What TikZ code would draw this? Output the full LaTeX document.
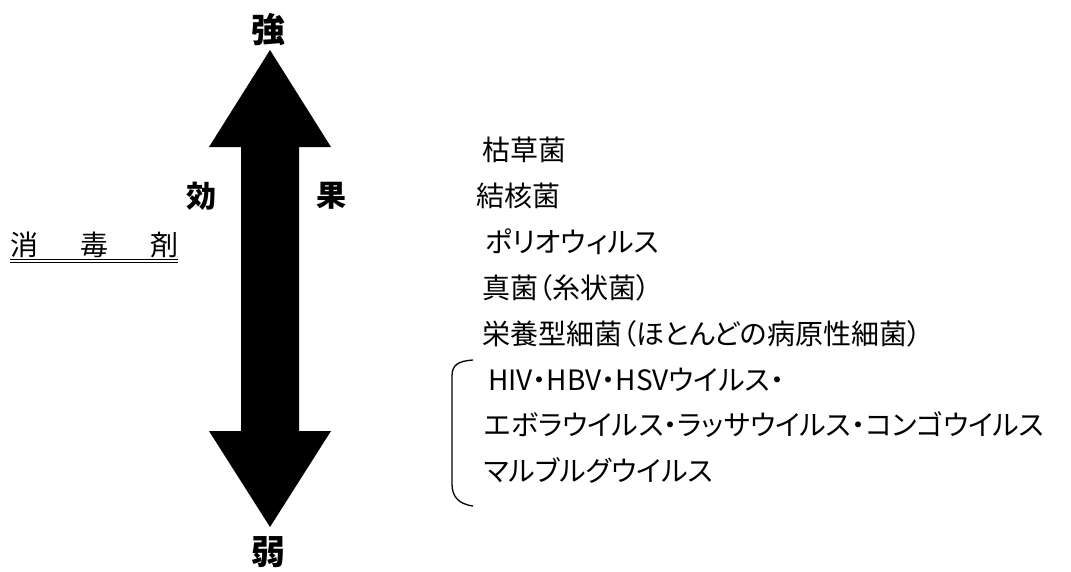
\documentclass[tikz,border=0pt]{standalone}
\usepackage{fontspec}
\setmainfont[RawFeature=+palt]{Noto Sans CJK JP}
\usetikzlibrary{positioning}
\tikzstyle{item} = [anchor=west, inner sep=0pt, font=\fontsize{28pt}{30pt}\selectfont]
\tikzstyle{pole} = [inner sep=0pt, font=\fontsize{34pt}{38pt}\selectfont\bfseries]
\tikzstyle{effect} = [inner sep=0pt, font=\fontsize{30pt}{34pt}\selectfont\bfseries]
\tikzstyle{bigarrow} = [fill=black]
\tikzstyle{uline} = [double, double distance=2.5pt, line width=1pt]
\tikzstyle{brace} = [line width=1.3pt]
\begin{document}
\begin{tikzpicture}[x=1pt, y=-1pt]
	\useasboundingbox (0,0) rectangle (1071,571);
	% strength arrow
	\node (strong) [pole] at (268,30) {強};
	\node (weak) [pole] at (268,552) {弱};
	\coordinate (tipU) at (270,50);
	\coordinate (tipD) at (270,527);
	\fill [bigarrow] (tipU) -- (331,147) -- (299,147) -- (299,431) -- (331,431) -- (tipD)
		-- (209,431) -- (241,431) -- (241,147) -- (209,147) -- cycle;
	\node (eff1) [effect] at (201,196) {効};
	\node (eff2) [effect] at (331,196) {果};
	
	\node (agent) [item] at (10,245) {消\hspace{42pt}毒\hspace{42pt}剤};
	\draw [uline] ([yshift=-3pt]agent.south west) -- ([yshift=-3pt]agent.south east);
	
	% organisms
	\node (bsub) [item] at (482,150) {枯草菌};
	\node (tb) [item] at ([xshift=-6pt, yshift=-46pt]bsub.west) {結核菌};
	\node (polio) [item] at ([xshift=9pt, yshift=-46pt]tb.west) {ポリオウィルス};
	\node (fungi) [item] at ([xshift=-3pt, yshift=-46pt]polio.west) {真菌（糸状菌）};
	\node (bact) [item] at ([yshift=-46pt]fungi.west) {栄養型細菌（ほとんどの病原性細菌）};
	\node (hiv) [item] at ([xshift=6pt, yshift=-46pt]bact.west) {HIV・HBV・HSVウイルス・};
	\node (ebola) [item] at ([xshift=-4pt, yshift=-45pt]hiv.west) {エボラウイルス・ラッサウイルス・コンゴウイルス};
	\node (marburg) [item] at ([yshift=-45pt]ebola.west) {マルブルグウイルス};
	\draw [brace] ([xshift=-15pt, yshift=20pt]hiv.west) .. controls ([xshift=-30pt, yshift=19pt]hiv.west) and ([xshift=-36pt, yshift=15pt]hiv.west) .. ([xshift=-36pt, yshift=4pt]hiv.west)
		-- ([xshift=-32pt, yshift=-14pt]marburg.west) .. controls ([xshift=-32pt, yshift=-26pt]marburg.west) and ([xshift=-26pt, yshift=-34pt]marburg.west) .. ([xshift=-11pt, yshift=-36pt]marburg.west);
\end{tikzpicture}
\end{document}
